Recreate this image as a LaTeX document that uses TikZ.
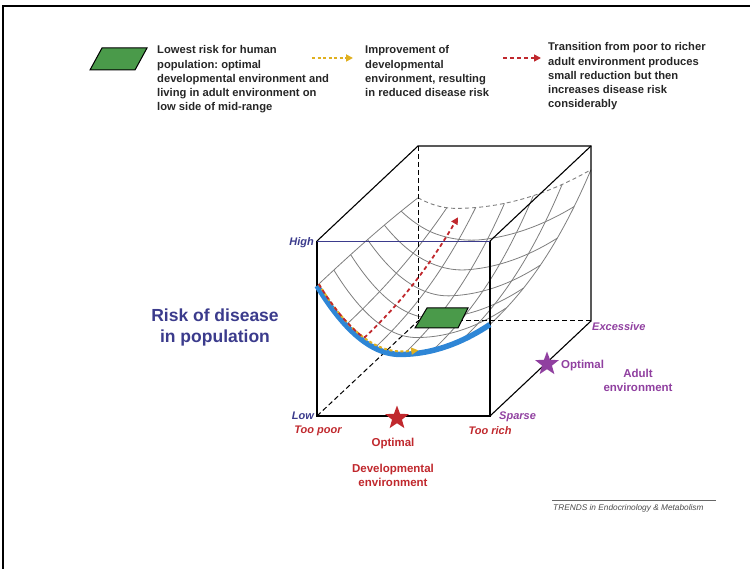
\documentclass[tikz,border=0pt]{standalone}
\usepackage{fontspec}
\setmainfont{Liberation Sans}
\usetikzlibrary{shapes.geometric,arrows.meta}
\frenchspacing
\definecolor{navy}{HTML}{3B3B8C}
\definecolor{rred}{HTML}{C0282D}
\definecolor{purp}{HTML}{9040A0}
\definecolor{sblue}{HTML}{2E86D6}
\definecolor{gold}{HTML}{E0B020}
\definecolor{pgreen}{HTML}{4A9A4A}
\definecolor{meshgray}{HTML}{7E7E7E}
\begin{document}
\begin{tikzpicture}[x=1pt,y=-1pt,
  declare function={
    fa(\u)=(\u<0.48) ? 0.35+1.693*(\u-0.48)*(\u-0.48) : 0.35+0.629*(\u-0.48)*(\u-0.48);
    fb(\u)=(\u<0.22) ? 0.64+1.24*(\u-0.22)*(\u-0.22) : 0.64+0.3616*(\u-0.22)*(\u-0.22);
    gw(\v)=\v*\v*(0.6+0.4*\v);
    hh(\u,\v)=fa(\u)*(1-gw(\v))+fb(\u)*gw(\v);
    px(\u,\v)=317+173*\u+101*\v;
    py(\u,\v)=416-176*hh(\u,\v)-95*\v;
  },
  edge/.style={line width=1.1pt,black},
  hiddenedge/.style={line width=1pt,black,dash pattern=on 5pt off 3pt},
  meshline/.style={line width=0.8pt,meshgray},
  axislab/.style={font=\fontsize{11}{13}\selectfont\bfseries\itshape,inner sep=1pt},
  plainlab/.style={font=\fontsize{11.5}{14}\selectfont\bfseries,inner sep=1pt,align=center},
  legendtext/.style={font=\fontsize{11.2}{14.2}\selectfont\bfseries,text=black!85,align=left,inner sep=0pt},
  starmark/.style={star,star points=5,star point ratio=2.4,minimum size=25pt,inner sep=0pt},
  tipA/.style={-{Triangle[length=7pt,width=7pt]}}
]
\useasboundingbox (0,0) rectangle (750,569);
% frame
\draw[line width=2.6pt] (3,569) -- (3,6) -- (750,6);

% cube corners
\coordinate (FBL) at (317,416);
\coordinate (FBR) at (490,416);
\coordinate (FTL) at (317,241);
\coordinate (FTR) at (490,241);
\coordinate (BBL) at (418,321);
\coordinate (BBR) at (591,321);
\coordinate (BTL) at (418,146);
\coordinate (BTR) at (591,146);

% risk surface wireframe
\foreach \v in {0.1667,0.3333,0.5,0.6667,0.8333}
  \draw[meshline] plot[domain=0:1,samples=50] ({px(\x,\v)},{py(\x,\v)});
\foreach \u in {0,0.1667,0.3333,0.5,0.6667,0.8333,1}
  \draw[meshline] plot[domain=0:1,samples=40,variable=\t] ({px(\u,\t)},{py(\u,\t)});
\draw[meshline,line width=0.9pt,dash pattern=on 4pt off 3pt] plot[domain=0:1,samples=50] ({px(\x,1)},{py(\x,1)});

% hidden cube edges
\draw[hiddenedge] (FBL) -- (BBL);
\draw[hiddenedge] (BTL) -- (BBL);
\draw[hiddenedge] (BBL) -- (BBR);

% visible cube edges
\draw[edge] (FTL) -- (FBL) -- (FBR) -- (FTR);
\draw[edge] (FTL) -- (BTL) -- (BTR) -- (BBR) -- (FBR);
\draw[edge] (FTR) -- (BTR);
\draw[navy,line width=0.8pt] (FTL) -- (FTR);

% lowest-risk zone
\draw[fill=pgreen,line width=1pt] (415,328) -- (427,308) -- (468,308) -- (458,328) -- cycle;

% front section of the surface
\draw[sblue,line width=5.5pt] plot[domain=0:1,samples=60] ({px(\x,0)},{py(\x,0)});
\draw[gold,line width=2pt,dash pattern=on 3pt off 2.5pt,tipA]
  plot[domain=0.005:0.58,samples=40] ({px(\x,0)+1},{py(\x,0)-3});
\draw[rred,line width=1.8pt,dash pattern=on 4pt off 3pt,tipA]
  plot[domain=0.005:0.26,samples=20] ({px(\x,0)+1},{py(\x,0)-3})
  -- plot[domain=0.03:0.95,samples=30,variable=\t] ({px(0.26,\t)},{py(0.26,\t)});

% axis labels
\node[axislab,navy,anchor=east] (high) at (315,243) {High};
\node[axislab,navy,anchor=east] (low) at (315,416) {Low};
\node[axislab,rred] (poor) at (318,431) {Too poor};
\node[axislab,rred] (rich) at (490,431) {Too rich};
\node[axislab,purp,anchor=west] (sparse) at (498,417) {Sparse};
\node[axislab,purp,anchor=west] (exc) at (591,327) {Excessive};

\node[starmark,fill=purp] (astar) at (547,364) {};
\node[plainlab,purp,anchor=west] (aopt) at (560,366) {Optimal};
\node[plainlab,purp] (aenv) at (638,380) {Adult\\environment};

\node[starmark,fill=rred] (dstar) at (397,418) {};
\node[plainlab,rred] (dopt) at (393,444) {Optimal};
\node[plainlab,rred] (denv) at (393,475) {Developmental\\environment};

\node[font=\fontsize{17.5}{21}\selectfont\bfseries,navy,align=center] (risk) at (215,327) {Risk of disease\\in population};

% legend (base anchor sits on the last line)
\draw[fill=pgreen,line width=1pt] (90,70) -- (102,48) -- (147,48) -- (135,70) -- cycle;
\node[legendtext,anchor=base west] (lg1) at (157,110.8) {Lowest risk for human\\population: optimal\\developmental environment and\\living in adult environment on\\low side of mid-range};
\coordinate (ya) at (312,58);
\coordinate (yb) at (353,58);
\draw[gold,line width=2pt,dash pattern=on 3pt off 2.5pt,tipA] (ya) -- (yb);
\node[legendtext,anchor=base west] (lg2) at (365,96.6) {Improvement of\\developmental\\environment, resulting\\in reduced disease risk};
\coordinate (ra) at (503,58);
\coordinate (rb) at (541,58);
\draw[rred,line width=1.6pt,dash pattern=on 4pt off 3pt,tipA] (ra) -- (rb);
\node[legendtext,anchor=base west] (lg3) at (548,107.8) {Transition from poor to richer\\adult environment produces\\small reduction but then\\increases disease risk\\considerably};

% source line
\draw[black!60,line width=0.8pt] (552,500) -- (716,500);
\node[font=\fontsize{8.3}{10}\selectfont\itshape,text=black!70,anchor=west,inner sep=0pt] (src) at (553,508) {TRENDS in Endocrinology \& Metabolism};
\end{tikzpicture}
\end{document}
